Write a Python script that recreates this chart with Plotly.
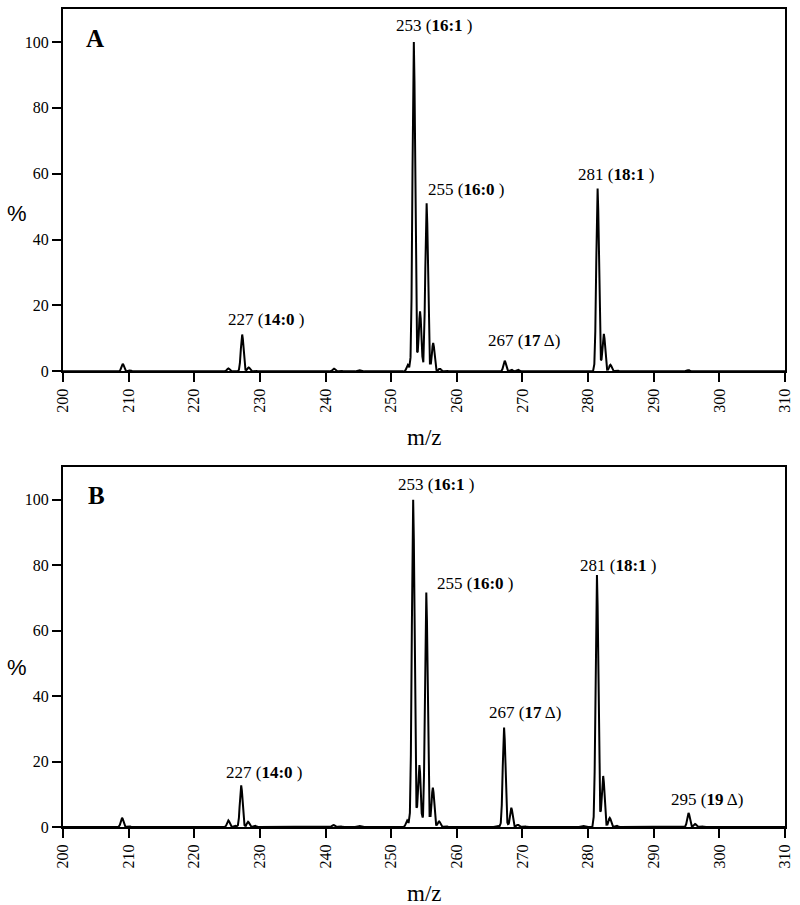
import numpy as np
import plotly.graph_objects as go

# ---------------- data ----------------
# Panel A: centroid peaks (m/z, relative intensity %)
mz_a = [205.0, 209.1, 210.2, 213.0, 225.2, 227.3, 228.3, 229.3, 239.5, 241.3, 242.3, 245.2,
        252.55, 253.45, 254.4, 255.4, 256.4, 257.4, 258.4, 267.3, 268.3, 269.3, 279.5,
        281.45, 282.4, 283.4, 284.4, 295.3, 297.3]
int_a = [0.2, 2.3, 0.3, 0.2, 0.9, 11.2, 1.2, 0.2, 0.2, 0.8, 0.2, 0.3,
         2.0, 100.0, 18.2, 51.0, 8.6, 0.8, 0.2, 3.2, 0.5, 0.5, 0.2,
         55.5, 11.4, 2.0, 0.3, 0.4, 0.2]

# Panel B
mz_b = [205.0, 209.0, 210.0, 215.0, 225.2, 226.2, 227.15, 228.2, 229.2, 239.8, 241.2, 242.2, 245.2,
        252.45, 253.35, 254.3, 255.35, 256.35, 257.3, 258.3, 266.3, 267.2, 268.3, 269.3, 270.3, 279.3,
        281.35, 282.3, 283.3, 284.3, 295.3, 296.3, 297.3]
int_b = [0.2, 2.8, 0.3, 0.2, 2.0, 0.4, 12.7, 1.6, 0.4, 0.2, 0.6, 0.2, 0.3,
         2.0, 100.0, 18.9, 71.7, 12.0, 1.7, 0.3, 0.3, 30.4, 5.9, 0.7, 0.2, 0.3,
         77.0, 15.6, 2.8, 0.4, 4.3, 0.9, 0.2]

# Peak labels
lab_a_text = ["227 (<b>14:0</b> )", "253 (<b>16:1</b> )", "255 (<b>16:0</b> )",
              "267 (<b>17</b> Δ)", "281 (<b>18:1</b> )"]
lab_a_x = [224.9, 250.5, 255.3, 264.5, 278.2]
lab_a_y = [15.8, 104.9, 55.3, 9.4, 59.9]

lab_b_text = ["227 (<b>14:0</b> )", "253 (<b>16:1</b> )", "255 (<b>16:0</b> )",
              "267 (<b>17</b> Δ)", "281 (<b>18:1</b> )", "295 (<b>19</b> Δ)"]
lab_b_x = [224.5, 250.8, 256.6, 264.6, 278.4, 292.4]
lab_b_y = [16.8, 104.8, 74.4, 35.0, 79.8, 8.4]

x_ticks = list(range(200, 311, 10))
y_ticks = [0, 20, 40, 60, 80, 100]
X_MIN, X_MAX = 200, 310

# drawing style: piecewise-linear peak template (offset in m/z, fraction of apex)
SHAPE_OFF = [-0.7, -0.5, -0.35, -0.2, -0.1, 0.0, 0.1, 0.2, 0.35, 0.5, 0.7]
SHAPE_FRAC = [0.0, 0.04, 0.22, 0.61, 0.88, 1.0, 0.88, 0.61, 0.22, 0.04, 0.0]


def profile(mz, inten):
    """Render a centroid peak list as a profile line using the peak template."""
    pts = {X_MIN, X_MAX}
    for m in mz:
        pts.update(m + o for o in SHAPE_OFF)
    xs = np.array(sorted(p for p in pts if X_MIN <= p <= X_MAX))
    ys = np.zeros_like(xs)
    for m, h in zip(mz, inten):
        ys += h * np.interp(xs - m, SHAPE_OFF, SHAPE_FRAC, left=0.0, right=0.0)
    return xs.tolist(), ys.tolist()


SERIF = "Liberation Serif"
fig = go.Figure()

xa, ya = profile(mz_a, int_a)
xb, yb = profile(mz_b, int_b)
fig.add_trace(go.Scatter(x=xa, y=ya, mode="lines", line=dict(color="black", width=2),
                         xaxis="x", yaxis="y", hoverinfo="skip"))
fig.add_trace(go.Scatter(x=xb, y=yb, mode="lines", line=dict(color="black", width=2),
                         xaxis="x2", yaxis="y2", hoverinfo="skip"))

ax_common = dict(showline=True, linewidth=2, linecolor="black", mirror=True,
                 ticks="outside", ticklen=9, tickwidth=2, tickcolor="black",
                 showgrid=False, zeroline=False,
                 tickfont=dict(family=SERIF, size=16, color="black"))

fig.update_layout(
    width=800, height=905,
    margin=dict(l=63, r=12, t=7, b=78),
    paper_bgcolor="white", plot_bgcolor="white",
    showlegend=False,
    xaxis=dict(domain=[0, 1], anchor="y", range=[X_MIN, X_MAX], tickvals=x_ticks,
               tickangle=-90, **ax_common),
    yaxis=dict(domain=[0.557, 1], anchor="x", range=[0, 110], tickvals=y_ticks, **ax_common),
    xaxis2=dict(domain=[0, 1], anchor="y2", range=[X_MIN, X_MAX], tickvals=x_ticks,
                tickangle=-90, **ax_common),
    yaxis2=dict(domain=[0, 0.440], anchor="x2", range=[0, 110], tickvals=y_ticks, **ax_common),
)

ann = []
for t, x, y in zip(lab_a_text, lab_a_x, lab_a_y):
    ann.append(dict(text=t, x=x, y=y, xref="x", yref="y", xanchor="left", yanchor="middle",
                    showarrow=False, font=dict(family=SERIF, size=17, color="black")))
for t, x, y in zip(lab_b_text, lab_b_x, lab_b_y):
    ann.append(dict(text=t, x=x, y=y, xref="x2", yref="y2", xanchor="left", yanchor="middle",
                    showarrow=False, font=dict(family=SERIF, size=17, color="black")))

# panel letters
ann.append(dict(text="<b>A</b>", x=204.8, y=101, xref="x", yref="y", showarrow=False,
                xanchor="center", yanchor="middle",
                font=dict(family=SERIF, size=25, color="black")))
ann.append(dict(text="<b>B</b>", x=205.1, y=101.4, xref="x2", yref="y2", showarrow=False,
                xanchor="center", yanchor="middle",
                font=dict(family=SERIF, size=25, color="black")))

# axis titles
for yp in (0.75, 0.195):
    ann.append(dict(text="%", x=-0.0634, y=yp, xref="paper", yref="paper", showarrow=False,
                    xanchor="center", yanchor="middle",
                    font=dict(family="Liberation Sans", size=22, color="black")))
for yp in (0.4756, -0.0817):
    ann.append(dict(text="m/z", x=0.5, y=yp, xref="paper", yref="paper", showarrow=False,
                    xanchor="center", yanchor="middle",
                    font=dict(family=SERIF, size=23, color="black")))

fig.update_layout(annotations=ann)
fig.write_html("out.html", config={"displayModeBar": False},
               post_script="document.body.style.margin='0';document.body.style.padding='0';")
